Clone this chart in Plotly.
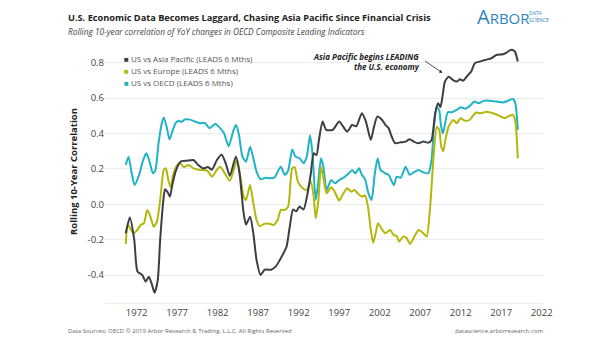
import plotly.graph_objects as go

# ---------------- data ----------------
ap_years = [1970.65, 1971.15, 1971.7, 1972.1, 1972.7, 1973.1, 1973.5, 1973.9, 1974.2, 1974.6,
            1974.9, 1975.3, 1975.5, 1975.8, 1976.1, 1976.4, 1976.8, 1977.4, 1978.2, 1979.0,
            1979.6, 1980.2, 1980.8, 1981.3, 1981.9, 1982.5, 1983.0, 1983.5, 1984.25, 1984.7,
            1985.2, 1985.5, 1986.0, 1986.4, 1986.8, 1987.3, 1987.8, 1988.6, 1989.2, 1989.9,
            1990.5, 1990.9, 1991.3, 1991.7, 1992.1, 1992.6, 1993.1, 1993.5, 1993.85, 1994.2,
            1994.5, 1994.95, 1995.4, 1996.2, 1997.0, 1997.5, 1998.0, 1998.6, 1999.1, 1999.8,
            2000.3, 2000.9, 2001.3, 2001.7, 2002.3, 2002.7, 2003.1, 2003.5, 2003.9, 2004.6,
            2005.2, 2005.7, 2006.2, 2006.8, 2007.4, 2008.0, 2008.4, 2008.85, 2009.2, 2009.5,
            2009.75, 2010.05, 2010.5, 2011.1, 2011.5, 2011.9, 2012.3, 2012.9, 2013.3, 2013.75,
            2014.35, 2015.0, 2015.4, 2015.8, 2016.4, 2017.2, 2017.6, 2018.0, 2018.4, 2018.7,
            2019.05]
ap_values = [-0.164, -0.075, -0.20, -0.38, -0.40, -0.437, -0.41, -0.456, -0.50, -0.43,
             -0.20, 0.025, 0.085, 0.07, 0.043, 0.11, 0.184, 0.24, 0.246, 0.25,
             0.222, 0.203, 0.21, 0.195, 0.25, 0.28, 0.23, 0.16, 0.27, 0.175,
             -0.05, -0.115, -0.07, -0.164, -0.315, -0.40, -0.37, -0.37, -0.35, -0.296,
             -0.24, -0.127, -0.03, -0.04, -0.013, -0.03, 0.062, 0.175, 0.288, 0.278,
             0.363, 0.467, 0.42, 0.42, 0.467, 0.438, 0.41, 0.448, 0.44, 0.514,
             0.467, 0.363, 0.438, 0.495, 0.476, 0.448, 0.43, 0.38, 0.345, 0.35,
             0.354, 0.367, 0.354, 0.345, 0.354, 0.348, 0.363, 0.514, 0.57, 0.55,
             0.608, 0.693, 0.72, 0.70, 0.693, 0.706, 0.698, 0.73, 0.75, 0.797,
             0.806, 0.815, 0.82, 0.825, 0.843, 0.847, 0.855, 0.868, 0.872, 0.862,
             0.806]

eu_years = [1970.65, 1970.9, 1971.2, 1971.6, 1972.0, 1972.5, 1972.9, 1973.3, 1973.7, 1974.1,
            1974.5, 1974.9, 1975.35, 1975.6, 1975.9, 1976.2, 1976.5, 1977.0, 1977.4, 1977.8,
            1978.4, 1979.0, 1979.8, 1980.7, 1981.3, 1981.9, 1982.3, 1982.8, 1983.5, 1984.1,
            1984.4, 1984.8, 1985.2, 1985.5, 1986.0, 1986.4, 1986.8, 1987.2, 1987.8, 1988.4,
            1988.9, 1989.4, 1989.8, 1990.3, 1990.7, 1991.2, 1991.5, 1991.9, 1992.5, 1993.0,
            1993.5, 1993.85, 1994.1, 1994.4, 1994.75, 1995.1, 1995.45, 1996.0, 1996.4, 1997.0,
            1997.5, 1998.0, 1998.5, 1998.9, 1999.3, 1999.8, 2000.2, 2000.55, 2000.9, 2001.2,
            2001.5, 2001.8, 2002.2, 2002.7, 2003.3, 2003.7, 2004.1, 2004.4, 2004.9, 2005.3,
            2005.75, 2006.2, 2006.8, 2007.4, 2007.8, 2008.2, 2008.65, 2009.05, 2009.35, 2009.6,
            2009.85, 2010.1, 2010.5, 2011.1, 2011.5, 2012.0, 2012.5, 2013.1, 2013.5, 2013.9,
            2014.5, 2015.2, 2016.0, 2016.8, 2017.4, 2018.0, 2018.45, 2018.75, 2019.05]
eu_values = [-0.224, -0.117, -0.136, -0.164, -0.15, -0.117, -0.107, -0.032, -0.07, -0.127,
             -0.098, 0.024, 0.194, 0.203, 0.137, 0.096, 0.166, 0.222, 0.232, 0.21,
             0.222, 0.203, 0.194, 0.19, 0.156, 0.194, 0.212, 0.18, 0.133, 0.212,
             0.25, 0.156, 0.043, 0.024, 0.109, 0.006, -0.089, -0.123, -0.11, -0.11,
             -0.117, -0.089, -0.032, -0.032, -0.013, 0.203, 0.21, 0.128, 0.09, 0.081,
             0.128, 0.043, -0.079, 0.006, 0.212, 0.137, 0.062, 0.096, 0.075, 0.02,
             0.06, 0.09, 0.071, 0.081, 0.06, 0.043, 0.05, -0.013, -0.145, -0.217,
             -0.164, -0.107, -0.136, -0.164, -0.145, -0.173, -0.18, -0.211, -0.183, -0.19,
             -0.224, -0.19, -0.145, -0.164, -0.183, -0.032, 0.269, 0.438, 0.42, 0.325,
             0.30, 0.363, 0.438, 0.476, 0.457, 0.486, 0.472, 0.476, 0.499, 0.518,
             0.514, 0.523, 0.514, 0.499, 0.486, 0.499, 0.505, 0.467, 0.26]

oecd_years = [1970.65, 1971.0, 1971.35, 1971.75, 1972.3, 1972.8, 1973.2, 1973.6, 1974.0, 1974.3,
              1974.7, 1975.1, 1975.35, 1975.7, 1976.05, 1976.4, 1976.8, 1977.2, 1977.5, 1978.0,
              1978.6, 1979.2, 1979.8, 1980.4, 1981.0, 1981.7, 1982.3, 1982.8, 1983.35, 1983.9,
              1984.25, 1984.6, 1985.05, 1985.5, 1986.0, 1986.4, 1986.8, 1987.3, 1987.9, 1988.4,
              1989.0, 1989.4, 1989.8, 1990.3, 1990.7, 1991.2, 1991.6, 1992.1, 1992.6, 1993.0,
              1993.4, 1993.7, 1994.1, 1994.4, 1994.75, 1995.05, 1995.45, 1996.0, 1996.5, 1997.0,
              1997.6, 1998.2, 1998.6, 1999.0, 1999.45, 1999.8, 2000.2, 2000.6, 2001.0, 2001.4,
              2001.75, 2002.1, 2002.7, 2003.1, 2003.75, 2004.1, 2004.6, 2005.2, 2005.7, 2006.2,
              2006.8, 2007.4, 2008.0, 2008.4, 2008.7, 2009.05, 2009.35, 2009.55, 2009.8, 2010.05,
              2010.4, 2010.9, 2011.5, 2012.0, 2012.6, 2013.1, 2013.7, 2014.2, 2014.8, 2015.6,
              2016.4, 2017.2, 2017.8, 2018.45, 2018.75, 2019.05]
oecd_values = [0.222, 0.269, 0.184, 0.109, 0.166, 0.25, 0.288, 0.24, 0.175, 0.19,
               0.345, 0.458, 0.49, 0.438, 0.367, 0.41, 0.458, 0.472, 0.465, 0.48,
               0.478, 0.467, 0.458, 0.46, 0.43, 0.453, 0.43, 0.40, 0.328, 0.41,
               0.448, 0.40, 0.269, 0.24, 0.325, 0.26, 0.184, 0.141, 0.15, 0.147,
               0.15, 0.184, 0.212, 0.166, 0.19, 0.31, 0.269, 0.26, 0.232, 0.269,
               0.39, 0.288, 0.024, 0.118, 0.26, 0.212, 0.081, 0.137, 0.118, 0.137,
               0.152, 0.175, 0.194, 0.175, 0.203, 0.166, 0.14, 0.062, 0.024, 0.175,
               0.26, 0.194, 0.175, 0.166, 0.109, 0.156, 0.15, 0.212, 0.166, 0.18,
               0.194, 0.18, 0.175, 0.25, 0.438, 0.55, 0.53, 0.45, 0.40, 0.45,
               0.52, 0.52, 0.533, 0.548, 0.54, 0.555, 0.58, 0.57, 0.584, 0.585,
               0.58, 0.575, 0.584, 0.595, 0.57, 0.42]

series_names = ["US vs Asia Pacific (LEADS 6 Mths)",
                "US vs Europe (LEADS 6 Mths)",
                "US vs OECD (LEADS 6 Mths)"]
x_ticks = [1972, 1977, 1982, 1987, 1992, 1997, 2002, 2007, 2012, 2017, 2022]
y_ticks = [-0.4, -0.2, 0.0, 0.2, 0.4, 0.6, 0.8]
y_tick_labels = ["-0.4", "-0.2", "0.0", "0.2", "0.4", "0.6", "0.8"]

# ---------------- styling ----------------
W, H = 605, 341
L, R, T, B = 105, 62, 40, 38
C_AP, C_EU, C_OECD = "#3c3e46", "#b4b70a", "#1fb3c6"
FONT = "Open Sans"

def px(x):
    return (x - L) / (W - L - R)

def py(y):
    return 1 - (y - T) / (H - T - B)

fig = go.Figure()
for xs, ys, c in [(oecd_years, oecd_values, C_OECD),
                  (eu_years, eu_values, C_EU),
                  (ap_years, ap_values, C_AP)]:
    fig.add_trace(go.Scatter(x=xs, y=ys, mode="lines",
                             line=dict(color=c, width=2, shape="spline", smoothing=0.6),
                             showlegend=False, hoverinfo="skip"))

annotations = [
    dict(text="<b>U.S. Economic Data Becomes Laggard, Chasing Asia Pacific Since Financial Crisis</b>",
         x=px(66), y=py(17), xanchor="left", yanchor="middle",
         font=dict(size=9.2, color="#222", family=FONT)),
    dict(text="<i>Rolling 10-year correlation of YoY changes in OECD Composite Leading Indicators</i>",
         x=px(66), y=py(31), xanchor="left", yanchor="middle",
         font=dict(size=8.3, color="#444", family=FONT)),
    dict(text="<span style='font-size:20px'>A</span>RBOR",
         x=px(475), y=py(16), xanchor="left", yanchor="middle",
         font=dict(size=15, color="#2f84bd", family=FONT)),
    dict(text="DATA<br>SCIENCE", x=px(527), y=py(16), xanchor="left", yanchor="middle",
         align="left", font=dict(size=5, color="#2f84bd", family=FONT)),
    dict(text="<b><i>Asia Pacific begins LEADING<br>the U.S. economy</i></b>",
         x=px(422), y=py(61), xanchor="right", yanchor="middle", align="right",
         font=dict(size=8, color="#222", family=FONT)),
    dict(text="Data Sources: OECD © 2019 Arbor Research & Trading, L.L.C. All Rights Reserved",
         x=px(66), y=py(331), xanchor="left", yanchor="middle",
         font=dict(size=6, color="#666", family=FONT)),
    dict(text="datascience.arborresearch.com",
         x=px(546), y=py(331), xanchor="right", yanchor="middle",
         font=dict(size=6, color="#666", family=FONT)),
    dict(text="", x=2009.75, y=0.742, ax=-19, ay=-13, axref="pixel", ayref="pixel",
         xref="x", yref="y", showarrow=True, arrowhead=2, arrowsize=0.8,
         arrowwidth=0.8, arrowcolor="#222"),
]
# legend rows (coloured square glyph + label)
for i, (name, c) in enumerate(zip(series_names, [C_AP, C_EU, C_OECD])):
    annotations.append(dict(
        text=f"<span style='color:{c}'>■</span> {name}",
        x=px(122), y=py(58 + 12 * i), xanchor="left", yanchor="middle",
        font=dict(size=8, color="#555", family=FONT)))
for a in annotations:
    a.setdefault("xref", "paper")
    a.setdefault("yref", "paper")
    a.setdefault("showarrow", False)

fig.update_layout(
    width=W, height=H, margin=dict(l=L, r=R, t=T, b=B),
    paper_bgcolor="white", plot_bgcolor="white",
    font=dict(family=FONT, color="#555"),
    annotations=annotations, showlegend=False,
    xaxis=dict(range=[1968.09, 2022.16], tickvals=x_ticks, ticktext=[str(t) for t in x_ticks],
               showgrid=False, zeroline=False, showline=True, linecolor="#eeeeee",
               tickfont=dict(size=9.5, color="#444"), ticks="", ticklabelstandoff=1),
    yaxis=dict(range=[-0.558, 0.928], tickvals=y_ticks, ticktext=y_tick_labels,
               showgrid=True, gridcolor="#ececec", gridwidth=1, zeroline=False,
               tickfont=dict(size=9.5, color="#444"), ticks="",
               title=dict(text="<b>Rolling 10-Year Correlation</b>",
                          font=dict(size=9.5, color="#222"), standoff=8)),
)

fig.write_html("out.html")
